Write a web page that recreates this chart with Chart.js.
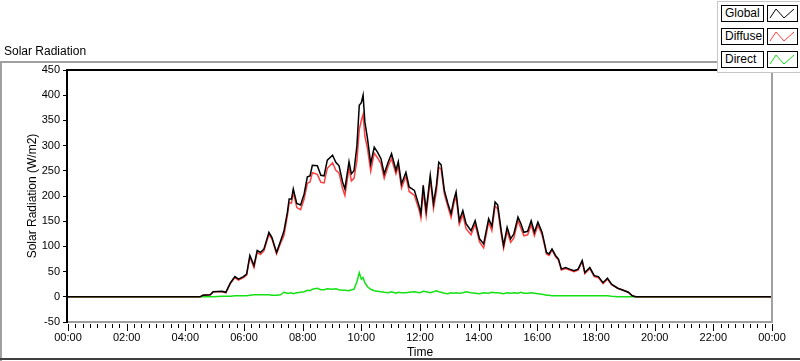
<!DOCTYPE html>
<html lang="en">
<head>
<meta charset="UTF-8">
<title>Solar Radiation</title>
<script src="https://cdn.jsdelivr.net/npm/chart.js"></script>
<style>
  body { margin: 0; background: #fff; font-family: "Liberation Sans", Arial, sans-serif; }
  #wrap { position: relative; width: 800px; height: 361px; overflow: hidden; }
  #chart { position: absolute; left: 0; top: 0; }
  #panelTitle { position: absolute; left: 4px; top: 44px; font-size: 12px; line-height: 14px; color: #000; }
  .edge { position: absolute; }
  #legend { position: absolute; left: 717px; top: 1px; width: 83px; height: 70px; background: #fff;
            border-left: 1px solid #c8c8c8; border-top: 1px solid #c8c8c8; border-bottom: 1px solid #c8c8c8; }
  .lgName { position: absolute; left: 3px; width: 40px; height: 15px; border: 1px solid #000;
            font-size: 12px; line-height: 15px; padding-left: 3px; box-sizing: border-box; width: 43px; height: 17px; }
  .lgSample { position: absolute; left: 49px; width: 31px; height: 17px; border: 1px solid #000; box-sizing: border-box; }
</style>
</head>
<body>
<div id="wrap">
  <canvas id="chart" width="800" height="361"></canvas>
  <div id="panelTitle">Solar Radiation</div>
  <div class="edge" style="left:0;top:61px;width:717px;height:2px;background:#a0a0a0;"></div>
  <div class="edge" style="left:0;top:61px;width:2px;height:300px;background:#a0a0a0;"></div>
  <div class="edge" style="left:0;top:358px;width:800px;height:2px;background:#404040;"></div>
  <div id="legend"></div>
</div>
<script>
// time of day in hours
const times = [0, 4.5, 4.6, 4.85, 4.95, 5.25, 5.38, 5.54, 5.69, 5.81, 5.98, 6.09, 6.2, 6.34, 6.45, 6.56, 6.68, 6.85, 6.95,
  7.11, 7.25, 7.36, 7.48, 7.54, 7.62, 7.68, 7.8, 7.93, 8.05, 8.16, 8.25, 8.33, 8.5, 8.62, 8.73, 8.84, 9.02, 9.13, 9.24,
  9.36, 9.44, 9.58, 9.66, 9.75, 9.85, 9.93, 10.0, 10.06, 10.12, 10.21, 10.32, 10.44, 10.55, 10.67, 10.78, 10.92, 11.03,
  11.18, 11.26, 11.37, 11.52, 11.63, 11.81, 11.98, 12.03, 12.11, 12.21, 12.35, 12.46, 12.56, 12.64, 12.72, 12.83, 12.95,
  13.06, 13.15, 13.23, 13.34, 13.46, 13.57, 13.74, 13.88, 14.03, 14.17, 14.34, 14.45, 14.56, 14.65, 14.77, 14.85, 14.97,
  15.09, 15.2, 15.34, 15.44, 15.54, 15.67, 15.79, 15.9, 16.02, 16.16, 16.25, 16.31, 16.4, 16.5, 16.62, 16.72, 16.82,
  16.96, 17.1, 17.25, 17.39, 17.53, 17.62, 17.79, 17.94, 18.08, 18.24, 18.39, 18.53, 18.74, 18.93, 19.1, 19.24, 19.35, 24];

const globalRad = [0, 0, 3, 4, 10, 11, 9, 28, 40, 35, 40, 45, 82, 62, 92, 88, 95, 128, 118,
  88, 111, 130, 168, 194, 194, 214, 185, 182, 204, 238, 240, 261, 260, 241, 240, 271, 281, 267, 260,
  228, 214, 268, 244, 250, 300, 380, 385, 400, 347, 314, 264, 297, 287, 274, 244, 268, 284,
  251, 268, 224, 247, 218, 211, 178, 165, 221, 171, 241, 185, 221, 267, 262, 211, 185,
  165, 191, 208, 151, 171, 145, 131, 151, 115, 105, 155, 140, 188, 182, 131, 102, 138,
  115, 125, 158, 145, 128, 130, 151, 128, 148, 128, 105, 88, 85, 95, 82, 75, 55,
  58, 55, 52, 55, 72, 48, 58, 42, 40, 28, 37, 25, 17, 13, 9, 2, 0, 0];

const diffuseRad = [0, 0, 3, 4, 10, 10, 8, 27, 38, 33, 38, 43, 79, 58, 88, 84, 91, 124, 115,
  85, 107, 121, 161, 187, 186, 208, 177, 173, 194, 225, 228, 246, 243, 227, 226, 255, 266, 251, 246,
  215, 201, 256, 230, 235, 270, 332, 350, 362, 319, 294, 249, 285, 276, 264, 235, 260, 274,
  244, 259, 216, 239, 209, 201, 170, 156, 210, 161, 233, 175, 209, 257, 253, 204, 179,
  157, 184, 200, 144, 163, 135, 123, 144, 109, 97, 148, 131, 180, 174, 124, 96, 130,
  108, 117, 151, 136, 121, 123, 143, 121, 142, 123, 101, 85, 82, 93, 80, 73, 53,
  56, 53, 50, 53, 70, 46, 56, 40, 38, 26, 35, 24, 17, 13, 9, 2, 0, 0];

const directRad = [0, 0, 0, 0, 0, 1, 1, 1, 2, 2, 2, 2, 3, 4, 4, 4, 4, 4, 3,
  3, 4, 9, 7, 7, 8, 6, 8, 9, 10, 13, 12, 15, 17, 14, 14, 16, 15, 16, 14,
  13, 13, 12, 14, 15, 30, 48, 35, 38, 28, 20, 15, 12, 11, 10, 9, 8, 10,
  7, 9, 8, 8, 9, 10, 8, 9, 11, 10, 8, 10, 12, 10, 9, 7, 6,
  8, 7, 8, 7, 8, 10, 8, 7, 6, 8, 7, 9, 8, 8, 7, 6, 8,
  7, 8, 7, 9, 7, 7, 8, 7, 6, 5, 4, 3, 3, 2, 2, 2, 2,
  2, 2, 2, 2, 2, 2, 2, 2, 2, 2, 2, 1, 0, 0, 0, 0, 0, 0];

const seriesNames = ['Global', 'Diffuse', 'Direct'];
const seriesColors = ['#000000', '#ff4040', '#14e014'];
const yTicks = [-50, 0, 50, 100, 150, 200, 250, 300, 350, 400, 450];
const xTickHours = [0, 2, 4, 6, 8, 10, 12, 14, 16, 18, 20, 22, 24];

function toPoints(vals) {
  return times.map((t, i) => ({ x: t, y: vals[i] }));
}

// legend boxes (name + line sample), LabVIEW style
const legend = document.getElementById('legend');
seriesNames.forEach((name, i) => {
  const top = 3 + i * 23;
  const n = document.createElement('div');
  n.className = 'lgName';
  n.style.top = top + 'px';
  n.textContent = name;
  legend.appendChild(n);
  const s = document.createElement('div');
  s.className = 'lgSample';
  s.style.top = top + 'px';
  s.innerHTML = '<svg width="29" height="15"><polyline points="2,12 8,3 16,12 26,3" fill="none" stroke="' +
    seriesColors[i] + '" stroke-width="1"/></svg>';
  legend.appendChild(s);
});

// frame of the plot area and the 15-minute ticks
const framePlugin = {
  id: 'frame',
  afterDraw(chart) {
    const { ctx, chartArea: a } = chart;
    const x = chart.scales.x;
    ctx.save();
    ctx.strokeStyle = '#000';
    ctx.lineWidth = 1;
    for (let m = 0; m <= 24 * 60; m += 15) {
      const px = Math.round(x.getPixelForValue(m / 60)) + 0.5;
      const len = (m % 120 === 0) ? 7 : 4;
      ctx.beginPath();
      ctx.moveTo(px, a.bottom + 2);
      ctx.lineTo(px, a.bottom + 2 + len);
      ctx.stroke();
    }
    ctx.lineWidth = 2;
    ctx.strokeStyle = '#a0a0a0';
    ctx.beginPath();
    ctx.moveTo(a.right, a.top);
    ctx.lineTo(a.right, a.bottom);
    ctx.lineTo(a.left, a.bottom);
    ctx.stroke();
    ctx.strokeStyle = '#000';
    ctx.beginPath();
    ctx.moveTo(a.left - 1, a.bottom);
    ctx.lineTo(a.left - 1, a.top);
    ctx.lineTo(a.right, a.top);
    ctx.stroke();
    ctx.restore();
  }
};

const ctx = document.getElementById('chart').getContext('2d');
new Chart(ctx, {
  type: 'line',
  data: {
    datasets: [
      { label: seriesNames[0], data: toPoints(globalRad), borderColor: seriesColors[0], borderWidth: 1.5, pointRadius: 0 },
      { label: seriesNames[1], data: toPoints(diffuseRad), borderColor: seriesColors[1], borderWidth: 1.5, pointRadius: 0 },
      { label: seriesNames[2], data: toPoints(directRad), borderColor: seriesColors[2], borderWidth: 1.5, pointRadius: 0 }
    ]
  },
  options: {
    responsive: false,
    animation: false,
    layout: { padding: { left: 0, top: 70, right: 28, bottom: 0 } },
    plugins: { legend: { display: false }, tooltip: { enabled: false } },
    scales: {
      x: {
        type: 'linear',
        min: 0,
        max: 24,
        afterFit: (scale) => { scale.height = 39; },
        afterBuildTicks: (scale) => { scale.ticks = xTickHours.map(v => ({ value: v })); },
        grid: { drawOnChartArea: false, tickLength: 7, tickColor: 'rgba(0,0,0,0)' },
        border: { display: false },
        ticks: {
          autoSkip: false,
          maxRotation: 0,
          padding: 2,
          color: '#000',
          font: { family: '"Liberation Sans", Arial, sans-serif', size: 11 },
          callback: (v) => String(v % 24).padStart(2, '0') + ':00'
        },
        title: {
          display: true,
          text: 'Time',
          color: '#000',
          font: { family: '"Liberation Sans", Arial, sans-serif', size: 12 },
          padding: { top: 0, bottom: 1 }
        }
      },
      y: {
        min: -50,
        max: 450,
        afterFit: (scale) => { scale.width = 68; },
        afterBuildTicks: (scale) => { scale.ticks = yTicks.map(v => ({ value: v })); },
        grid: { drawOnChartArea: false, tickLength: 5, tickColor: '#000' },
        border: { display: false },
        ticks: {
          padding: 3,
          color: '#000',
          font: { family: '"Liberation Sans", Arial, sans-serif', size: 11 }
        },
        title: {
          display: true,
          text: 'Solar Radiation (W/m2)',
          color: '#000',
          font: { family: '"Liberation Sans", Arial, sans-serif', size: 12 },
          padding: { top: 25, bottom: 0 }
        }
      }
    }
  },
  plugins: [framePlugin]
});
</script>
</body>
</html>
